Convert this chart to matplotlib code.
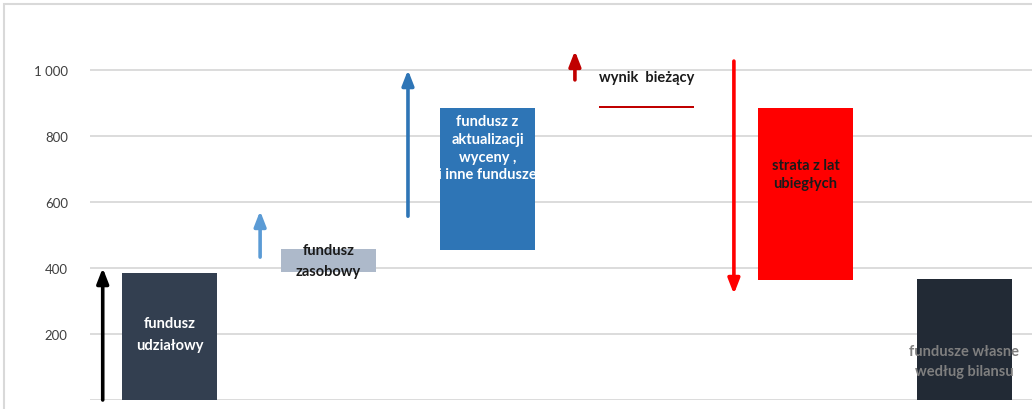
import matplotlib.pyplot as plt
from matplotlib.patches import Rectangle

plt.rcParams['font.family'] = ['Lato', 'DejaVu Sans']

# bars of the waterfall (floating boxes)
labels = ['fundusz\nudziałowy', 'fundusz\nzasobowy',
          'fundusz z\naktualizacji\nwyceny ,\ni inne fundusze',
          'wynik  bieżący', 'strata z lat\nubiegłych',
          'fundusze własne\nwedług bilansu']
bar_bottom = [0, 388, 455, 885, 364, 0]
bar_top = [385, 457, 885, 891, 885, 367]
bar_colors = ['#333F50', '#ADB9CA', '#2E75B6', '#C00000', '#FF0000', '#222A35']
text_colors = ['white', '#1A1A1A', 'white', '#1A1A1A', '#1A1A1A', '#7F7F7F']
label_y = [200, 424, 764, 979, 685, 118]
label_spacing = [1.78, 1.63, 1.33, 1.0, 1.33, 1.48]

# arrows next to bars (start value, end value)
arrow_start = [0, 433, 557, 970, 1027]
arrow_end = [400, 573, 1000, 1058, 321]
arrow_colors = ['black', '#5B9BD5', '#2E75B6', '#C00000', '#FF0000']
arrow_offset = [-0.42, -0.43, -0.5, -0.45, -0.45]

yticks = [0, 200, 400, 600, 800, 1000]
ytick_labels = ['', '200', '400', '600', '800', '1 000']

fig = plt.figure(figsize=(10.32, 4.10), dpi=100)
ax = fig.add_axes([90 / 1032, 9 / 410, 942 / 1032, 396 / 410])

x = list(range(len(labels)))
heights = [t - b for t, b in zip(bar_top, bar_bottom)]
bars = ax.bar(x, heights, bottom=bar_bottom, width=0.6, color=bar_colors, zorder=3)

for i, b in enumerate(bars):
    t = ax.text(x[i], label_y[i], labels[i], ha='center', va='center',
                fontsize=10.5, fontweight='bold', color=text_colors[i],
                linespacing=label_spacing[i], zorder=4)
    if i == 2:
        t.set_clip_path(b)

for i in range(len(arrow_start)):
    ax.annotate('', xy=(x[i] + arrow_offset[i], arrow_end[i]),
                xytext=(x[i] + arrow_offset[i], arrow_start[i]),
                arrowprops=dict(arrowstyle='-|>,head_length=0.9,head_width=0.35',
                                color=arrow_colors[i], lw=2.6, shrinkA=0, shrinkB=0),
                zorder=5)

ax.set_xlim(-0.5, 5.425)
ax.set_ylim(0, 1200)
ax.set_yticks(yticks)
ax.set_yticklabels(ytick_labels, fontsize=9.5, color='#404040')
ax.set_xticks([])
ax.tick_params(axis='y', length=0, pad=16)
ax.grid(axis='y', color='#D9D9D9', lw=1.3, zorder=0)
for s in ax.spines.values():
    s.set_visible(False)

# outer chart frame
fig.patches.append(Rectangle((4 / 1032, -0.1), 1.2, (410 - 5) / 410 + 0.1,
                             transform=fig.transFigure, fill=False,
                             edgecolor='#D9D9D9', lw=1.5))

fig.savefig('out.png', dpi=100)
